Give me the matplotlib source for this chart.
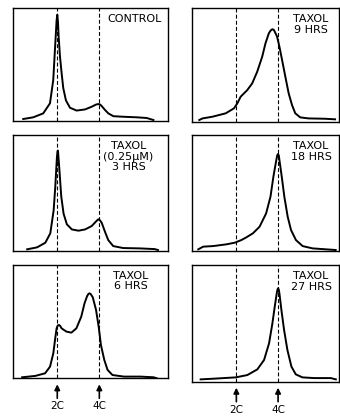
import matplotlib.pyplot as plt

# DNA content histograms (channel units: 2C = 50, 4C = 100), height as fraction of panel
control_x = [9.5, 21.4, 33.3, 41.3, 45.2, 47.2, 49.2, 50.0, 50.8, 51.6, 53.2, 55.2, 57.1, 60.3, 65.1,
             73.0, 83.0, 90.9, 96.0, 98.8, 101.0, 102.8, 106.8, 110.7, 116.7, 128.6, 144.5, 156.4, 164.3]
control_y = [0.015, 0.03, 0.065, 0.154, 0.36, 0.627, 0.89, 0.94, 0.88, 0.75, 0.57, 0.42, 0.29, 0.18, 0.115,
             0.09, 0.10, 0.124, 0.143, 0.148, 0.143, 0.13, 0.095, 0.065, 0.04, 0.035, 0.03, 0.024, 0.006]

h3_x = [14.2, 26.0, 35.8, 41.7, 45.7, 47.6, 49.6, 50.3, 50.8, 51.5, 52.8, 54.7, 57.5, 61.4, 67.3, 75.2,
        83.1, 90.9, 96.9, 98.5, 99.6, 100.8, 102.8, 106.7, 110.6, 116.5, 128.3, 148.0, 165.8, 169.7]
h3_y = [0.012, 0.029, 0.069, 0.15, 0.35, 0.55, 0.81, 0.86, 0.865, 0.80, 0.67, 0.47, 0.32, 0.228, 0.184, 0.173,
        0.184, 0.213, 0.259, 0.27, 0.271, 0.262, 0.242, 0.164, 0.092, 0.040, 0.023, 0.02, 0.014, 0.006]

h6_x = [8.2, 23.8, 35.5, 41.4, 45.3, 47.3, 49.2, 50.6, 52.0, 53.5, 55.1, 60.9, 66.8, 72.7, 78.5, 82.4,
        85.5, 87.0, 88.3, 89.8, 92.2, 96.1, 99.2, 101.9, 105.9, 109.8, 115.6, 129.3, 148.8, 164.5, 168.4]
h6_y = [0.009, 0.021, 0.044, 0.103, 0.221, 0.338, 0.441, 0.466, 0.471, 0.462, 0.441, 0.412, 0.403, 0.441, 0.544, 0.662,
        0.726, 0.744, 0.75, 0.743, 0.715, 0.603, 0.456, 0.294, 0.162, 0.074, 0.029, 0.015, 0.015, 0.009, 0.0]

h9_x = [5.6, 9.5, 21.4, 37.3, 47.2, 51.2, 55.2, 57.1, 63.1, 69.0, 75.0, 81.0, 84.9, 88.9, 91.0,
        92.5, 93.7, 95.0, 96.0, 98.8, 101.6, 104.8, 108.7, 112.7, 116.7, 120.6, 126.6, 136.5, 156.3, 168.3]
h9_y = [0.015, 0.029, 0.044, 0.074, 0.118, 0.162, 0.221, 0.235, 0.279, 0.338, 0.441, 0.574, 0.691, 0.779, 0.803,
        0.813, 0.815, 0.808, 0.794, 0.75, 0.662, 0.544, 0.397, 0.25, 0.147, 0.074, 0.038, 0.029, 0.026, 0.021]

h18_x = [4.4, 10.3, 22.2, 38.1, 48.0, 56.0, 61.9, 69.8, 77.8, 85.7, 90.9, 94.4, 97.6, 99.0, 100.0,
         100.9, 101.6, 104.4, 107.5, 111.5, 115.5, 121.4, 129.4, 141.3, 157.1, 169.0]
h18_y = [0.012, 0.035, 0.040, 0.055, 0.069, 0.092, 0.115, 0.150, 0.207, 0.323, 0.467, 0.640, 0.772, 0.825, 0.836,
         0.822, 0.784, 0.640, 0.467, 0.294, 0.179, 0.092, 0.040, 0.020, 0.012, 0.006]

h27_x = [7.2, 23.2, 49.2, 63.2, 75.2, 83.2, 89.2, 93.2, 96.0, 98.4, 99.3, 100.0, 100.8, 101.6, 104.0, 107.2,
         111.2, 116.0, 121.2, 129.2, 143.2, 163.2, 169.2]
h27_y = [0.02, 0.026, 0.037, 0.057, 0.106, 0.186, 0.329, 0.5, 0.643, 0.757, 0.79, 0.8, 0.79, 0.757, 0.614, 0.443,
         0.271, 0.129, 0.063, 0.037, 0.031, 0.031, 0.02]

labels = ["CONTROL", "TAXOL\n(0.25\u03bcM)\n3 HRS", "TAXOL\n6 HRS",
          "TAXOL\n9 HRS", "TAXOL\n18 HRS", "TAXOL\n27 HRS"]
ploidy_pos = [50, 100]
ploidy_labels = ["2C", "4C"]

curves = [(control_x, control_y), (h3_x, h3_y), (h6_x, h6_y),
          (h9_x, h9_y), (h18_x, h18_y), (h27_x, h27_y)]

W, H = 340, 416
# panel frames in pixels: left, top, right, bottom
frames = [(12.7, 8.0, 168.3, 120.7), (12.7, 135.0, 168.3, 250.7), (12.7, 265.0, 168.3, 378.3),
          (191.7, 8.3, 339.0, 121.7), (191.7, 135.0, 339.0, 250.7), (191.7, 265.0, 339.0, 381.7)]
xlims = [(-3, 182)] * 3 + [(-3.5, 173)] * 3
label_x = [0.78, 0.745, 0.76, 0.81, 0.81, 0.81]

fig = plt.figure(figsize=(W / 100, H / 100), dpi=100)

for i, (l, t, r, b) in enumerate(frames):
    hpx = b - t
    ax = fig.add_axes([l / W, 1 - b / H, (r - l) / W, hpx / H])
    x, y = curves[i]
    ax.plot(x, y, color="black", lw=1.4, solid_joinstyle="round")
    for p in ploidy_pos:
        ax.axvline(p, color="black", lw=0.8, ls=(0, (3.5, 2)))
    ax.set_xlim(*xlims[i])
    ax.set_ylim(0, 1)
    ax.set_xticks([])
    ax.set_yticks([])
    for s in ax.spines.values():
        s.set_linewidth(1.0)
    ax.text(label_x[i], 0.95, labels[i], transform=ax.transAxes, ha="center", va="top",
            fontsize=8, linespacing=1.1)
    if i in (2, 5):
        tr = ax.get_xaxis_transform()
        for p, lab in zip(ploidy_pos, ploidy_labels):
            ax.annotate("", xy=(p, -6 / hpx), xytext=(p, -20 / hpx), xycoords=tr, textcoords=tr,
                        arrowprops=dict(arrowstyle="-|>", color="black", lw=1.2,
                                        mutation_scale=8, shrinkA=0, shrinkB=0),
                        annotation_clip=False)
            ax.text(p, -28 / hpx, lab, transform=tr, ha="center", va="center", fontsize=7.5)

fig.savefig("out.png", dpi=100)
